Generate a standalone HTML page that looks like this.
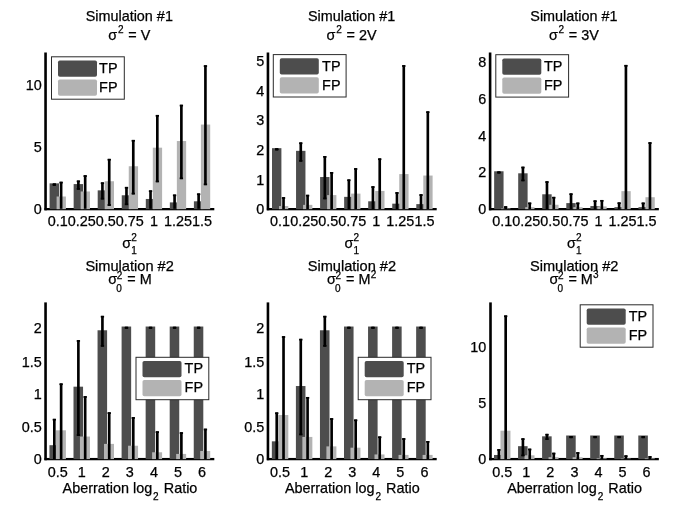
<!DOCTYPE html>
<html><head><meta charset="utf-8"><title>Simulation figure</title>
<style>html,body{margin:0;padding:0;background:#fff}svg{display:block}text{stroke:#000;stroke-width:.25px}</style></head>
<body>
<svg width="685" height="525" viewBox="0 0 685 525" font-family="Liberation Sans, sans-serif" fill="#000">
<rect width="685" height="525" fill="#fff"/>
<rect x="44.25" y="52.50" width="2.6" height="157.80" fill="#000"/>
<rect x="44.50" y="208.00" width="169.80" height="2.3" fill="#000"/>
<rect x="49.60" y="183.34" width="9.40" height="25.81" fill="#4d4d4d"/>
<rect x="56.60" y="196.50" width="9.30" height="12.65" fill="#b3b3b3"/>
<rect x="73.65" y="184.08" width="9.40" height="25.07" fill="#4d4d4d"/>
<rect x="80.65" y="191.46" width="9.30" height="17.69" fill="#b3b3b3"/>
<rect x="97.70" y="190.35" width="9.40" height="18.80" fill="#4d4d4d"/>
<rect x="104.70" y="181.25" width="9.30" height="27.90" fill="#b3b3b3"/>
<rect x="121.75" y="195.27" width="9.40" height="13.88" fill="#4d4d4d"/>
<rect x="128.75" y="166.24" width="9.30" height="42.91" fill="#b3b3b3"/>
<rect x="145.80" y="198.96" width="9.40" height="10.19" fill="#4d4d4d"/>
<rect x="152.80" y="147.67" width="9.30" height="61.48" fill="#b3b3b3"/>
<rect x="169.85" y="202.40" width="9.40" height="6.75" fill="#4d4d4d"/>
<rect x="176.85" y="141.03" width="9.30" height="68.12" fill="#b3b3b3"/>
<rect x="193.90" y="201.30" width="9.40" height="7.85" fill="#4d4d4d"/>
<rect x="200.90" y="124.55" width="9.30" height="84.60" fill="#b3b3b3"/>
<rect x="53.00" y="183.46" width="2.65" height="2.34" fill="#000"/>
<rect x="59.80" y="181.74" width="2.65" height="27.06" fill="#000"/>
<rect x="52.65" y="183.46" width="3.35" height="1.7" fill="#000"/>
<rect x="52.65" y="184.10" width="3.35" height="1.7" fill="#000"/>
<rect x="59.45" y="181.74" width="3.35" height="1.7" fill="#000"/>
<rect x="77.05" y="180.51" width="2.65" height="9.22" fill="#000"/>
<rect x="83.85" y="175.22" width="2.65" height="33.58" fill="#000"/>
<rect x="76.70" y="180.51" width="3.35" height="1.7" fill="#000"/>
<rect x="76.70" y="188.04" width="3.35" height="1.7" fill="#000"/>
<rect x="83.50" y="175.22" width="3.35" height="1.7" fill="#000"/>
<rect x="101.10" y="182.36" width="2.65" height="17.10" fill="#000"/>
<rect x="107.90" y="158.86" width="2.65" height="46.99" fill="#000"/>
<rect x="100.75" y="182.36" width="3.35" height="1.7" fill="#000"/>
<rect x="100.75" y="197.75" width="3.35" height="1.7" fill="#000"/>
<rect x="107.55" y="158.86" width="3.35" height="1.7" fill="#000"/>
<rect x="107.55" y="204.15" width="3.35" height="1.7" fill="#000"/>
<rect x="125.15" y="186.91" width="2.65" height="18.20" fill="#000"/>
<rect x="131.95" y="139.92" width="2.65" height="54.49" fill="#000"/>
<rect x="124.80" y="186.91" width="3.35" height="1.7" fill="#000"/>
<rect x="124.80" y="203.41" width="3.35" height="1.7" fill="#000"/>
<rect x="131.60" y="139.92" width="3.35" height="1.7" fill="#000"/>
<rect x="131.60" y="192.71" width="3.35" height="1.7" fill="#000"/>
<rect x="149.20" y="190.35" width="2.65" height="18.45" fill="#000"/>
<rect x="156.00" y="114.95" width="2.65" height="67.28" fill="#000"/>
<rect x="148.85" y="190.35" width="3.35" height="1.7" fill="#000"/>
<rect x="155.65" y="114.95" width="3.35" height="1.7" fill="#000"/>
<rect x="155.65" y="180.53" width="3.35" height="1.7" fill="#000"/>
<rect x="173.25" y="194.53" width="2.65" height="14.27" fill="#000"/>
<rect x="180.05" y="104.74" width="2.65" height="74.42" fill="#000"/>
<rect x="172.90" y="194.53" width="3.35" height="1.7" fill="#000"/>
<rect x="179.70" y="104.74" width="3.35" height="1.7" fill="#000"/>
<rect x="179.70" y="177.46" width="3.35" height="1.7" fill="#000"/>
<rect x="197.30" y="193.43" width="2.65" height="15.38" fill="#000"/>
<rect x="204.10" y="65.26" width="2.65" height="119.93" fill="#000"/>
<rect x="196.95" y="193.43" width="3.35" height="1.7" fill="#000"/>
<rect x="203.75" y="65.26" width="3.35" height="1.7" fill="#000"/>
<rect x="203.75" y="183.48" width="3.35" height="1.7" fill="#000"/>
<text x="41.80" y="214.10" font-size="14.4" text-anchor="end" >0</text>
<text x="41.80" y="151.85" font-size="14.4" text-anchor="end" >5</text>
<text x="41.80" y="89.60" font-size="14.4" text-anchor="end" >10</text>
<text x="57.70" y="225.80" font-size="14.4" text-anchor="middle" >0.1</text>
<text x="81.75" y="225.80" font-size="14.4" text-anchor="middle" >0.25</text>
<text x="105.80" y="225.80" font-size="14.4" text-anchor="middle" >0.5</text>
<text x="129.85" y="225.80" font-size="14.4" text-anchor="middle" >0.75</text>
<text x="153.90" y="225.80" font-size="14.4" text-anchor="middle" >1</text>
<text x="177.95" y="225.80" font-size="14.4" text-anchor="middle" >1.25</text>
<text x="202.00" y="225.80" font-size="14.4" text-anchor="middle" >1.5</text>
<rect x="51.50" y="56.80" width="72.8" height="42.4" fill="#fff" stroke="#2a2a2a" stroke-width="1"/>
<rect x="58.00" y="60.50" width="39" height="16.3" rx="1.8" fill="#4d4d4d"/>
<rect x="58.00" y="79.50" width="39" height="16.3" rx="1.8" fill="#b3b3b3"/>
<text x="99.10" y="72.80" font-size="14.4" text-anchor="start" >TP</text>
<text x="99.10" y="91.80" font-size="14.4" text-anchor="start" >FP</text>
<rect x="266.65" y="52.50" width="2.6" height="157.80" fill="#000"/>
<rect x="266.90" y="208.00" width="169.80" height="2.3" fill="#000"/>
<rect x="272.00" y="148.17" width="9.40" height="60.98" fill="#4d4d4d"/>
<rect x="279.00" y="206.04" width="9.30" height="3.11" fill="#b3b3b3"/>
<rect x="296.05" y="150.84" width="9.40" height="58.31" fill="#4d4d4d"/>
<rect x="303.05" y="204.86" width="9.30" height="4.29" fill="#b3b3b3"/>
<rect x="320.10" y="177.03" width="9.40" height="32.12" fill="#4d4d4d"/>
<rect x="327.10" y="195.09" width="9.30" height="14.06" fill="#b3b3b3"/>
<rect x="344.15" y="196.86" width="9.40" height="12.29" fill="#4d4d4d"/>
<rect x="351.15" y="193.61" width="9.30" height="15.54" fill="#b3b3b3"/>
<rect x="368.20" y="201.30" width="9.40" height="7.85" fill="#4d4d4d"/>
<rect x="375.20" y="190.94" width="9.30" height="18.21" fill="#b3b3b3"/>
<rect x="392.25" y="203.67" width="9.40" height="5.48" fill="#4d4d4d"/>
<rect x="399.25" y="174.07" width="9.30" height="35.08" fill="#b3b3b3"/>
<rect x="416.30" y="204.12" width="9.40" height="5.03" fill="#4d4d4d"/>
<rect x="423.30" y="175.55" width="9.30" height="33.60" fill="#b3b3b3"/>
<rect x="275.40" y="148.32" width="2.65" height="2.07" fill="#000"/>
<rect x="282.20" y="197.16" width="2.65" height="11.84" fill="#000"/>
<rect x="275.05" y="148.32" width="3.35" height="1.7" fill="#000"/>
<rect x="275.05" y="148.69" width="3.35" height="1.7" fill="#000"/>
<rect x="281.85" y="197.16" width="3.35" height="1.7" fill="#000"/>
<rect x="299.45" y="142.40" width="2.65" height="19.24" fill="#000"/>
<rect x="306.25" y="194.79" width="2.65" height="14.21" fill="#000"/>
<rect x="299.10" y="142.40" width="3.35" height="1.7" fill="#000"/>
<rect x="299.10" y="159.94" width="3.35" height="1.7" fill="#000"/>
<rect x="305.90" y="194.79" width="3.35" height="1.7" fill="#000"/>
<rect x="323.50" y="156.02" width="2.65" height="43.22" fill="#000"/>
<rect x="330.30" y="172.00" width="2.65" height="37.00" fill="#000"/>
<rect x="323.15" y="156.02" width="3.35" height="1.7" fill="#000"/>
<rect x="323.15" y="197.53" width="3.35" height="1.7" fill="#000"/>
<rect x="329.95" y="172.00" width="3.35" height="1.7" fill="#000"/>
<rect x="347.55" y="179.40" width="2.65" height="29.60" fill="#000"/>
<rect x="354.35" y="168.15" width="2.65" height="40.85" fill="#000"/>
<rect x="347.20" y="179.40" width="3.35" height="1.7" fill="#000"/>
<rect x="354.00" y="168.15" width="3.35" height="1.7" fill="#000"/>
<rect x="371.60" y="186.21" width="2.65" height="22.79" fill="#000"/>
<rect x="378.40" y="158.38" width="2.65" height="50.62" fill="#000"/>
<rect x="371.25" y="186.21" width="3.35" height="1.7" fill="#000"/>
<rect x="378.05" y="158.38" width="3.35" height="1.7" fill="#000"/>
<rect x="395.65" y="192.13" width="2.65" height="16.87" fill="#000"/>
<rect x="402.45" y="65.14" width="2.65" height="143.86" fill="#000"/>
<rect x="395.30" y="192.13" width="3.35" height="1.7" fill="#000"/>
<rect x="402.10" y="65.14" width="3.35" height="1.7" fill="#000"/>
<rect x="419.70" y="194.20" width="2.65" height="14.80" fill="#000"/>
<rect x="426.50" y="111.32" width="2.65" height="97.68" fill="#000"/>
<rect x="419.35" y="194.20" width="3.35" height="1.7" fill="#000"/>
<rect x="426.15" y="111.32" width="3.35" height="1.7" fill="#000"/>
<text x="264.20" y="214.10" font-size="14.4" text-anchor="end" >0</text>
<text x="264.20" y="184.50" font-size="14.4" text-anchor="end" >1</text>
<text x="264.20" y="154.90" font-size="14.4" text-anchor="end" >2</text>
<text x="264.20" y="125.30" font-size="14.4" text-anchor="end" >3</text>
<text x="264.20" y="95.70" font-size="14.4" text-anchor="end" >4</text>
<text x="264.20" y="66.10" font-size="14.4" text-anchor="end" >5</text>
<text x="280.10" y="225.80" font-size="14.4" text-anchor="middle" >0.1</text>
<text x="304.15" y="225.80" font-size="14.4" text-anchor="middle" >0.25</text>
<text x="328.20" y="225.80" font-size="14.4" text-anchor="middle" >0.5</text>
<text x="352.25" y="225.80" font-size="14.4" text-anchor="middle" >0.75</text>
<text x="376.30" y="225.80" font-size="14.4" text-anchor="middle" >1</text>
<text x="400.35" y="225.80" font-size="14.4" text-anchor="middle" >1.25</text>
<text x="424.40" y="225.80" font-size="14.4" text-anchor="middle" >1.5</text>
<rect x="273.30" y="54.60" width="72.8" height="42.4" fill="#fff" stroke="#2a2a2a" stroke-width="1"/>
<rect x="279.80" y="58.30" width="39" height="16.3" rx="1.8" fill="#4d4d4d"/>
<rect x="279.80" y="77.30" width="39" height="16.3" rx="1.8" fill="#b3b3b3"/>
<text x="322.10" y="70.60" font-size="14.4" text-anchor="start" >TP</text>
<text x="322.10" y="89.60" font-size="14.4" text-anchor="start" >FP</text>
<rect x="488.80" y="52.50" width="2.6" height="157.80" fill="#000"/>
<rect x="489.05" y="208.00" width="169.80" height="2.3" fill="#000"/>
<rect x="494.15" y="171.28" width="9.40" height="37.87" fill="#4d4d4d"/>
<rect x="501.15" y="208.45" width="9.30" height="0.70" fill="#b3b3b3"/>
<rect x="518.20" y="173.30" width="9.40" height="35.85" fill="#4d4d4d"/>
<rect x="525.20" y="207.16" width="9.30" height="1.99" fill="#b3b3b3"/>
<rect x="542.25" y="194.28" width="9.40" height="14.87" fill="#4d4d4d"/>
<rect x="549.25" y="204.77" width="9.30" height="4.38" fill="#b3b3b3"/>
<rect x="566.30" y="203.11" width="9.40" height="6.04" fill="#4d4d4d"/>
<rect x="573.30" y="207.16" width="9.30" height="1.99" fill="#b3b3b3"/>
<rect x="590.35" y="206.06" width="9.40" height="3.09" fill="#4d4d4d"/>
<rect x="597.35" y="206.42" width="9.30" height="2.73" fill="#b3b3b3"/>
<rect x="614.40" y="207.16" width="9.40" height="1.99" fill="#4d4d4d"/>
<rect x="621.40" y="191.15" width="9.30" height="18.00" fill="#b3b3b3"/>
<rect x="638.45" y="207.16" width="9.40" height="1.99" fill="#4d4d4d"/>
<rect x="645.45" y="197.22" width="9.30" height="11.93" fill="#b3b3b3"/>
<rect x="497.55" y="171.46" width="2.65" height="2.02" fill="#000"/>
<rect x="504.35" y="206.24" width="2.65" height="2.76" fill="#000"/>
<rect x="497.20" y="171.46" width="3.35" height="1.7" fill="#000"/>
<rect x="497.20" y="171.79" width="3.35" height="1.7" fill="#000"/>
<rect x="504.00" y="206.24" width="3.35" height="1.7" fill="#000"/>
<rect x="521.60" y="166.68" width="2.65" height="14.54" fill="#000"/>
<rect x="528.40" y="202.56" width="2.65" height="6.44" fill="#000"/>
<rect x="521.25" y="166.68" width="3.35" height="1.7" fill="#000"/>
<rect x="521.25" y="179.52" width="3.35" height="1.7" fill="#000"/>
<rect x="528.05" y="202.56" width="3.35" height="1.7" fill="#000"/>
<rect x="545.65" y="181.22" width="2.65" height="27.78" fill="#000"/>
<rect x="552.45" y="196.86" width="2.65" height="12.14" fill="#000"/>
<rect x="545.30" y="181.22" width="3.35" height="1.7" fill="#000"/>
<rect x="552.10" y="196.86" width="3.35" height="1.7" fill="#000"/>
<rect x="569.70" y="193.36" width="2.65" height="15.64" fill="#000"/>
<rect x="576.50" y="202.56" width="2.65" height="6.44" fill="#000"/>
<rect x="569.35" y="193.36" width="3.35" height="1.7" fill="#000"/>
<rect x="576.15" y="202.56" width="3.35" height="1.7" fill="#000"/>
<rect x="593.75" y="200.35" width="2.65" height="8.65" fill="#000"/>
<rect x="600.55" y="199.98" width="2.65" height="9.02" fill="#000"/>
<rect x="593.40" y="200.35" width="3.35" height="1.7" fill="#000"/>
<rect x="600.20" y="199.98" width="3.35" height="1.7" fill="#000"/>
<rect x="617.80" y="202.38" width="2.65" height="6.62" fill="#000"/>
<rect x="624.60" y="64.93" width="2.65" height="144.07" fill="#000"/>
<rect x="617.45" y="202.38" width="3.35" height="1.7" fill="#000"/>
<rect x="624.25" y="64.93" width="3.35" height="1.7" fill="#000"/>
<rect x="641.85" y="202.56" width="2.65" height="6.44" fill="#000"/>
<rect x="648.65" y="142.21" width="2.65" height="66.79" fill="#000"/>
<rect x="641.50" y="202.56" width="3.35" height="1.7" fill="#000"/>
<rect x="648.30" y="142.21" width="3.35" height="1.7" fill="#000"/>
<text x="486.35" y="214.10" font-size="14.4" text-anchor="end" >0</text>
<text x="486.35" y="177.30" font-size="14.4" text-anchor="end" >2</text>
<text x="486.35" y="140.50" font-size="14.4" text-anchor="end" >4</text>
<text x="486.35" y="103.70" font-size="14.4" text-anchor="end" >6</text>
<text x="486.35" y="66.90" font-size="14.4" text-anchor="end" >8</text>
<text x="502.25" y="225.80" font-size="14.4" text-anchor="middle" >0.1</text>
<text x="526.30" y="225.80" font-size="14.4" text-anchor="middle" >0.25</text>
<text x="550.35" y="225.80" font-size="14.4" text-anchor="middle" >0.5</text>
<text x="574.40" y="225.80" font-size="14.4" text-anchor="middle" >0.75</text>
<text x="598.45" y="225.80" font-size="14.4" text-anchor="middle" >1</text>
<text x="622.50" y="225.80" font-size="14.4" text-anchor="middle" >1.25</text>
<text x="646.55" y="225.80" font-size="14.4" text-anchor="middle" >1.5</text>
<rect x="495.80" y="54.70" width="72.8" height="42.4" fill="#fff" stroke="#2a2a2a" stroke-width="1"/>
<rect x="502.30" y="58.40" width="39" height="16.3" rx="1.8" fill="#4d4d4d"/>
<rect x="502.30" y="77.40" width="39" height="16.3" rx="1.8" fill="#b3b3b3"/>
<text x="543.90" y="70.70" font-size="14.4" text-anchor="start" >TP</text>
<text x="543.90" y="89.70" font-size="14.4" text-anchor="start" >FP</text>
<rect x="44.25" y="302.40" width="2.6" height="157.85" fill="#000"/>
<rect x="44.50" y="457.95" width="169.80" height="2.3" fill="#000"/>
<rect x="49.45" y="445.20" width="9.55" height="13.90" fill="#4d4d4d"/>
<rect x="55.90" y="430.31" width="10.00" height="28.79" fill="#b3b3b3"/>
<rect x="73.50" y="386.68" width="9.55" height="72.42" fill="#4d4d4d"/>
<rect x="79.95" y="436.54" width="10.00" height="22.56" fill="#b3b3b3"/>
<rect x="97.55" y="330.27" width="9.55" height="128.83" fill="#4d4d4d"/>
<rect x="104.00" y="443.89" width="10.00" height="15.21" fill="#b3b3b3"/>
<rect x="121.60" y="326.53" width="9.55" height="132.57" fill="#4d4d4d"/>
<rect x="128.05" y="445.72" width="10.00" height="13.38" fill="#b3b3b3"/>
<rect x="145.65" y="326.53" width="9.55" height="132.57" fill="#4d4d4d"/>
<rect x="152.10" y="452.28" width="10.00" height="6.82" fill="#b3b3b3"/>
<rect x="169.70" y="326.53" width="9.55" height="132.57" fill="#4d4d4d"/>
<rect x="176.15" y="453.92" width="10.00" height="5.18" fill="#b3b3b3"/>
<rect x="193.75" y="326.53" width="9.55" height="132.57" fill="#4d4d4d"/>
<rect x="200.20" y="450.97" width="10.00" height="8.13" fill="#b3b3b3"/>
<rect x="53.00" y="418.83" width="2.65" height="40.27" fill="#000"/>
<rect x="59.80" y="383.40" width="2.65" height="75.70" fill="#000"/>
<rect x="52.65" y="418.83" width="3.35" height="1.7" fill="#000"/>
<rect x="59.45" y="383.40" width="3.35" height="1.7" fill="#000"/>
<rect x="77.05" y="340.11" width="2.65" height="95.78" fill="#000"/>
<rect x="83.85" y="396.13" width="2.65" height="62.97" fill="#000"/>
<rect x="76.70" y="340.11" width="3.35" height="1.7" fill="#000"/>
<rect x="76.70" y="434.18" width="3.35" height="1.7" fill="#000"/>
<rect x="83.50" y="396.13" width="3.35" height="1.7" fill="#000"/>
<rect x="101.10" y="315.84" width="2.65" height="30.83" fill="#000"/>
<rect x="107.90" y="412.27" width="2.65" height="46.83" fill="#000"/>
<rect x="100.75" y="315.84" width="3.35" height="1.7" fill="#000"/>
<rect x="100.75" y="344.97" width="3.35" height="1.7" fill="#000"/>
<rect x="107.55" y="412.27" width="3.35" height="1.7" fill="#000"/>
<rect x="125.15" y="326.79" width="2.65" height="1.90" fill="#000"/>
<rect x="131.95" y="417.12" width="2.65" height="41.98" fill="#000"/>
<rect x="124.80" y="326.79" width="3.35" height="1.7" fill="#000"/>
<rect x="124.80" y="326.99" width="3.35" height="1.7" fill="#000"/>
<rect x="131.60" y="417.12" width="3.35" height="1.7" fill="#000"/>
<rect x="149.20" y="326.79" width="2.65" height="1.90" fill="#000"/>
<rect x="156.00" y="431.29" width="2.65" height="27.81" fill="#000"/>
<rect x="148.85" y="326.79" width="3.35" height="1.7" fill="#000"/>
<rect x="148.85" y="326.99" width="3.35" height="1.7" fill="#000"/>
<rect x="155.65" y="431.29" width="3.35" height="1.7" fill="#000"/>
<rect x="173.25" y="326.79" width="2.65" height="1.90" fill="#000"/>
<rect x="180.05" y="432.21" width="2.65" height="26.89" fill="#000"/>
<rect x="172.90" y="326.79" width="3.35" height="1.7" fill="#000"/>
<rect x="172.90" y="326.99" width="3.35" height="1.7" fill="#000"/>
<rect x="179.70" y="432.21" width="3.35" height="1.7" fill="#000"/>
<rect x="197.30" y="326.79" width="2.65" height="1.90" fill="#000"/>
<rect x="204.10" y="428.67" width="2.65" height="30.43" fill="#000"/>
<rect x="196.95" y="326.79" width="3.35" height="1.7" fill="#000"/>
<rect x="196.95" y="326.99" width="3.35" height="1.7" fill="#000"/>
<rect x="203.75" y="428.67" width="3.35" height="1.7" fill="#000"/>
<text x="41.80" y="464.10" font-size="14.4" text-anchor="end" >0</text>
<text x="41.80" y="431.60" font-size="14.4" text-anchor="end" >0.5</text>
<text x="41.80" y="399.20" font-size="14.4" text-anchor="end" >1</text>
<text x="41.80" y="366.60" font-size="14.4" text-anchor="end" >1.5</text>
<text x="41.80" y="332.80" font-size="14.4" text-anchor="end" >2</text>
<text x="57.70" y="476.90" font-size="14.4" text-anchor="middle" >0.5</text>
<text x="81.75" y="476.90" font-size="14.4" text-anchor="middle" >1</text>
<text x="105.80" y="476.90" font-size="14.4" text-anchor="middle" >2</text>
<text x="129.85" y="476.90" font-size="14.4" text-anchor="middle" >3</text>
<text x="153.90" y="476.90" font-size="14.4" text-anchor="middle" >4</text>
<text x="177.95" y="476.90" font-size="14.4" text-anchor="middle" >5</text>
<text x="202.00" y="476.90" font-size="14.4" text-anchor="middle" >6</text>
<rect x="136.00" y="357.30" width="72.8" height="42.4" fill="#fff" stroke="#2a2a2a" stroke-width="1"/>
<rect x="142.50" y="361.00" width="39" height="16.3" rx="1.8" fill="#4d4d4d"/>
<rect x="142.50" y="380.00" width="39" height="16.3" rx="1.8" fill="#b3b3b3"/>
<text x="184.60" y="373.30" font-size="14.4" text-anchor="start" >TP</text>
<text x="184.60" y="392.30" font-size="14.4" text-anchor="start" >FP</text>
<rect x="266.65" y="302.40" width="2.6" height="157.85" fill="#000"/>
<rect x="266.90" y="457.95" width="169.80" height="2.3" fill="#000"/>
<rect x="271.85" y="441.33" width="9.55" height="17.77" fill="#4d4d4d"/>
<rect x="278.30" y="415.02" width="10.00" height="44.08" fill="#b3b3b3"/>
<rect x="295.90" y="386.03" width="9.55" height="73.07" fill="#4d4d4d"/>
<rect x="302.35" y="436.93" width="10.00" height="22.17" fill="#b3b3b3"/>
<rect x="319.95" y="330.27" width="9.55" height="128.83" fill="#4d4d4d"/>
<rect x="326.40" y="446.38" width="10.00" height="12.72" fill="#b3b3b3"/>
<rect x="344.00" y="326.53" width="9.55" height="132.57" fill="#4d4d4d"/>
<rect x="350.45" y="447.69" width="10.00" height="11.41" fill="#b3b3b3"/>
<rect x="368.05" y="326.53" width="9.55" height="132.57" fill="#4d4d4d"/>
<rect x="374.50" y="454.45" width="10.00" height="4.65" fill="#b3b3b3"/>
<rect x="392.10" y="326.53" width="9.55" height="132.57" fill="#4d4d4d"/>
<rect x="398.55" y="454.91" width="10.00" height="4.19" fill="#b3b3b3"/>
<rect x="416.15" y="326.53" width="9.55" height="132.57" fill="#4d4d4d"/>
<rect x="422.60" y="454.91" width="10.00" height="4.19" fill="#b3b3b3"/>
<rect x="275.40" y="412.40" width="2.65" height="46.70" fill="#000"/>
<rect x="282.20" y="336.17" width="2.65" height="122.93" fill="#000"/>
<rect x="275.05" y="412.40" width="3.35" height="1.7" fill="#000"/>
<rect x="281.85" y="336.17" width="3.35" height="1.7" fill="#000"/>
<rect x="299.45" y="338.80" width="2.65" height="96.43" fill="#000"/>
<rect x="306.25" y="396.98" width="2.65" height="62.12" fill="#000"/>
<rect x="299.10" y="338.80" width="3.35" height="1.7" fill="#000"/>
<rect x="299.10" y="433.53" width="3.35" height="1.7" fill="#000"/>
<rect x="305.90" y="396.98" width="3.35" height="1.7" fill="#000"/>
<rect x="323.50" y="315.84" width="2.65" height="30.83" fill="#000"/>
<rect x="330.30" y="418.17" width="2.65" height="40.93" fill="#000"/>
<rect x="323.15" y="315.84" width="3.35" height="1.7" fill="#000"/>
<rect x="323.15" y="344.97" width="3.35" height="1.7" fill="#000"/>
<rect x="329.95" y="418.17" width="3.35" height="1.7" fill="#000"/>
<rect x="347.55" y="326.79" width="2.65" height="1.90" fill="#000"/>
<rect x="354.35" y="419.48" width="2.65" height="39.62" fill="#000"/>
<rect x="347.20" y="326.79" width="3.35" height="1.7" fill="#000"/>
<rect x="347.20" y="326.99" width="3.35" height="1.7" fill="#000"/>
<rect x="354.00" y="419.48" width="3.35" height="1.7" fill="#000"/>
<rect x="371.60" y="326.79" width="2.65" height="1.90" fill="#000"/>
<rect x="378.40" y="436.41" width="2.65" height="22.69" fill="#000"/>
<rect x="371.25" y="326.79" width="3.35" height="1.7" fill="#000"/>
<rect x="371.25" y="326.99" width="3.35" height="1.7" fill="#000"/>
<rect x="378.05" y="436.41" width="3.35" height="1.7" fill="#000"/>
<rect x="395.65" y="326.79" width="2.65" height="1.90" fill="#000"/>
<rect x="402.45" y="438.18" width="2.65" height="20.92" fill="#000"/>
<rect x="395.30" y="326.79" width="3.35" height="1.7" fill="#000"/>
<rect x="395.30" y="326.99" width="3.35" height="1.7" fill="#000"/>
<rect x="402.10" y="438.18" width="3.35" height="1.7" fill="#000"/>
<rect x="419.70" y="326.79" width="2.65" height="1.90" fill="#000"/>
<rect x="426.50" y="441.00" width="2.65" height="18.10" fill="#000"/>
<rect x="419.35" y="326.79" width="3.35" height="1.7" fill="#000"/>
<rect x="419.35" y="326.99" width="3.35" height="1.7" fill="#000"/>
<rect x="426.15" y="441.00" width="3.35" height="1.7" fill="#000"/>
<text x="264.20" y="464.10" font-size="14.4" text-anchor="end" >0</text>
<text x="264.20" y="431.60" font-size="14.4" text-anchor="end" >0.5</text>
<text x="264.20" y="399.20" font-size="14.4" text-anchor="end" >1</text>
<text x="264.20" y="366.60" font-size="14.4" text-anchor="end" >1.5</text>
<text x="264.20" y="332.80" font-size="14.4" text-anchor="end" >2</text>
<text x="280.10" y="476.90" font-size="14.4" text-anchor="middle" >0.5</text>
<text x="304.15" y="476.90" font-size="14.4" text-anchor="middle" >1</text>
<text x="328.20" y="476.90" font-size="14.4" text-anchor="middle" >2</text>
<text x="352.25" y="476.90" font-size="14.4" text-anchor="middle" >3</text>
<text x="376.30" y="476.90" font-size="14.4" text-anchor="middle" >4</text>
<text x="400.35" y="476.90" font-size="14.4" text-anchor="middle" >5</text>
<text x="424.40" y="476.90" font-size="14.4" text-anchor="middle" >6</text>
<rect x="358.20" y="357.30" width="72.8" height="42.4" fill="#fff" stroke="#2a2a2a" stroke-width="1"/>
<rect x="364.70" y="361.00" width="39" height="16.3" rx="1.8" fill="#4d4d4d"/>
<rect x="364.70" y="380.00" width="39" height="16.3" rx="1.8" fill="#b3b3b3"/>
<text x="406.80" y="373.30" font-size="14.4" text-anchor="start" >TP</text>
<text x="406.80" y="392.30" font-size="14.4" text-anchor="start" >FP</text>
<rect x="489.20" y="302.40" width="2.6" height="157.85" fill="#000"/>
<rect x="489.05" y="457.95" width="169.80" height="2.3" fill="#000"/>
<rect x="494.00" y="454.98" width="9.55" height="4.12" fill="#4d4d4d"/>
<rect x="500.45" y="430.69" width="10.00" height="28.42" fill="#b3b3b3"/>
<rect x="518.05" y="446.17" width="9.55" height="12.93" fill="#4d4d4d"/>
<rect x="524.50" y="455.32" width="10.00" height="3.78" fill="#b3b3b3"/>
<rect x="542.10" y="436.33" width="9.55" height="22.77" fill="#4d4d4d"/>
<rect x="548.55" y="457.13" width="10.00" height="1.97" fill="#b3b3b3"/>
<rect x="566.15" y="435.50" width="9.55" height="23.60" fill="#4d4d4d"/>
<rect x="572.60" y="457.24" width="10.00" height="1.86" fill="#b3b3b3"/>
<rect x="590.20" y="435.50" width="9.55" height="23.60" fill="#4d4d4d"/>
<rect x="596.65" y="458.37" width="10.00" height="0.73" fill="#b3b3b3"/>
<rect x="614.25" y="435.50" width="9.55" height="23.60" fill="#4d4d4d"/>
<rect x="620.70" y="458.60" width="10.00" height="0.50" fill="#b3b3b3"/>
<rect x="638.30" y="435.50" width="9.55" height="23.60" fill="#4d4d4d"/>
<rect x="644.75" y="458.37" width="10.00" height="0.73" fill="#b3b3b3"/>
<rect x="497.55" y="449.10" width="2.65" height="10.00" fill="#000"/>
<rect x="504.35" y="315.42" width="2.65" height="143.68" fill="#000"/>
<rect x="497.20" y="449.10" width="3.35" height="1.7" fill="#000"/>
<rect x="504.00" y="315.42" width="3.35" height="1.7" fill="#000"/>
<rect x="521.60" y="438.26" width="2.65" height="17.97" fill="#000"/>
<rect x="528.40" y="448.65" width="2.65" height="10.45" fill="#000"/>
<rect x="521.25" y="438.26" width="3.35" height="1.7" fill="#000"/>
<rect x="521.25" y="454.52" width="3.35" height="1.7" fill="#000"/>
<rect x="528.05" y="448.65" width="3.35" height="1.7" fill="#000"/>
<rect x="545.65" y="433.85" width="2.65" height="6.10" fill="#000"/>
<rect x="552.45" y="452.72" width="2.65" height="6.38" fill="#000"/>
<rect x="545.30" y="433.85" width="3.35" height="1.7" fill="#000"/>
<rect x="545.30" y="438.25" width="3.35" height="1.7" fill="#000"/>
<rect x="552.10" y="452.72" width="3.35" height="1.7" fill="#000"/>
<rect x="569.70" y="436.00" width="2.65" height="2.15" fill="#000"/>
<rect x="576.50" y="452.15" width="2.65" height="6.95" fill="#000"/>
<rect x="569.35" y="436.00" width="3.35" height="1.7" fill="#000"/>
<rect x="569.35" y="436.44" width="3.35" height="1.7" fill="#000"/>
<rect x="576.15" y="452.15" width="3.35" height="1.7" fill="#000"/>
<rect x="593.75" y="436.00" width="2.65" height="2.15" fill="#000"/>
<rect x="600.55" y="454.98" width="2.65" height="4.12" fill="#000"/>
<rect x="593.40" y="436.00" width="3.35" height="1.7" fill="#000"/>
<rect x="593.40" y="436.44" width="3.35" height="1.7" fill="#000"/>
<rect x="600.20" y="454.98" width="3.35" height="1.7" fill="#000"/>
<rect x="617.80" y="436.00" width="2.65" height="2.15" fill="#000"/>
<rect x="624.60" y="455.32" width="2.65" height="3.78" fill="#000"/>
<rect x="617.45" y="436.00" width="3.35" height="1.7" fill="#000"/>
<rect x="617.45" y="436.44" width="3.35" height="1.7" fill="#000"/>
<rect x="624.25" y="455.32" width="3.35" height="1.7" fill="#000"/>
<rect x="641.85" y="436.00" width="2.65" height="2.15" fill="#000"/>
<rect x="648.65" y="456.11" width="2.65" height="2.99" fill="#000"/>
<rect x="641.50" y="436.00" width="3.35" height="1.7" fill="#000"/>
<rect x="641.50" y="436.44" width="3.35" height="1.7" fill="#000"/>
<rect x="648.30" y="456.11" width="3.35" height="1.7" fill="#000"/>
<text x="486.35" y="464.20" font-size="14.4" text-anchor="end" >0</text>
<text x="486.35" y="408.00" font-size="14.4" text-anchor="end" >5</text>
<text x="486.35" y="351.50" font-size="14.4" text-anchor="end" >10</text>
<text x="502.25" y="476.90" font-size="14.4" text-anchor="middle" >0.5</text>
<text x="526.30" y="476.90" font-size="14.4" text-anchor="middle" >1</text>
<text x="550.35" y="476.90" font-size="14.4" text-anchor="middle" >2</text>
<text x="574.40" y="476.90" font-size="14.4" text-anchor="middle" >3</text>
<text x="598.45" y="476.90" font-size="14.4" text-anchor="middle" >4</text>
<text x="622.50" y="476.90" font-size="14.4" text-anchor="middle" >5</text>
<text x="646.55" y="476.90" font-size="14.4" text-anchor="middle" >6</text>
<rect x="580.20" y="304.80" width="72.8" height="42.4" fill="#fff" stroke="#2a2a2a" stroke-width="1"/>
<rect x="586.70" y="308.50" width="39" height="16.3" rx="1.8" fill="#4d4d4d"/>
<rect x="586.70" y="327.50" width="39" height="16.3" rx="1.8" fill="#b3b3b3"/>
<text x="628.80" y="320.80" font-size="14.4" text-anchor="start" >TP</text>
<text x="628.80" y="339.80" font-size="14.4" text-anchor="start" >FP</text>
<text x="129.30" y="20.80" font-size="14.4" text-anchor="middle" >Simulation #1</text>
<text x="129.60" y="270.90" font-size="14.6" text-anchor="middle" >Simulation #2</text>
<text x="351.60" y="20.80" font-size="14.4" text-anchor="middle" >Simulation #1</text>
<text x="351.90" y="270.90" font-size="14.6" text-anchor="middle" >Simulation #2</text>
<text x="573.90" y="20.80" font-size="14.4" text-anchor="middle" >Simulation #1</text>
<text x="574.20" y="270.90" font-size="14.6" text-anchor="middle" >Simulation #2</text>
<text x="129.30" y="39.9" font-size="14.4" text-anchor="middle">σ<tspan font-size="10" dy="-7.3" dx="0.7">2</tspan><tspan dy="7.3" dx="0.8"> = V</tspan></text>
<text x="351.60" y="39.9" font-size="14.4" text-anchor="middle">σ<tspan font-size="10" dy="-7.3" dx="0.7">2</tspan><tspan dy="7.3" dx="0.8"> = 2V</tspan></text>
<text x="573.90" y="39.9" font-size="14.4" text-anchor="middle">σ<tspan font-size="10" dy="-7.3" dx="0.7">2</tspan><tspan dy="7.3" dx="0.8"> = 3V</tspan></text>
<text x="108.30" y="284" font-size="14.4" text-anchor="start">σ</text>
<text x="116.80" y="278.5" font-size="10">2</text>
<text x="116.30" y="291.9" font-size="10">0</text>
<text x="127.30" y="284" font-size="14.4" text-anchor="start">= M</text>
<text x="327.10" y="284" font-size="14.4" text-anchor="start">σ</text>
<text x="335.60" y="278.5" font-size="10">2</text>
<text x="335.10" y="291.9" font-size="10">0</text>
<text x="346.10" y="284" font-size="14.4" text-anchor="start">= M<tspan font-size="10" dy="-5.7" dx="0.3">2</tspan></text>
<text x="549.40" y="284" font-size="14.4" text-anchor="start">σ</text>
<text x="557.90" y="278.5" font-size="10">2</text>
<text x="557.40" y="291.9" font-size="10">0</text>
<text x="568.40" y="284" font-size="14.4" text-anchor="start">= M<tspan font-size="10" dy="-5.7" dx="0.3">3</tspan></text>
<text x="122.30" y="248" font-size="14.4">σ</text>
<text x="131.30" y="240.7" font-size="10">2</text>
<text x="131.30" y="254.2" font-size="10">1</text>
<text x="344.60" y="248" font-size="14.4">σ</text>
<text x="353.60" y="240.7" font-size="10">2</text>
<text x="353.60" y="254.2" font-size="10">1</text>
<text x="566.90" y="248" font-size="14.4">σ</text>
<text x="575.90" y="240.7" font-size="10">2</text>
<text x="575.90" y="254.2" font-size="10">1</text>
<text x="62.60" y="493" font-size="14.4">Aberration log<tspan font-size="10" dy="7.3" dx="0.9">2</tspan><tspan dy="-7.3" dx="1.1"> Ratio</tspan></text>
<text x="284.90" y="493" font-size="14.4">Aberration log<tspan font-size="10" dy="7.3" dx="0.9">2</tspan><tspan dy="-7.3" dx="1.1"> Ratio</tspan></text>
<text x="507.20" y="493" font-size="14.4">Aberration log<tspan font-size="10" dy="7.3" dx="0.9">2</tspan><tspan dy="-7.3" dx="1.1"> Ratio</tspan></text>
</svg>
</body></html>
